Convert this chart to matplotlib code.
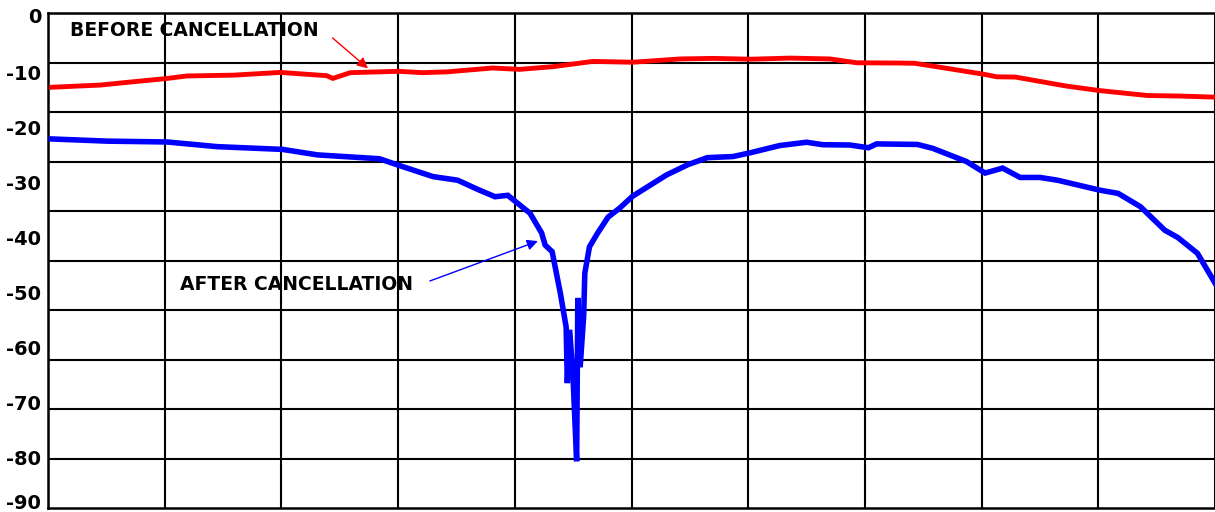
import numpy as np
import matplotlib
matplotlib.use("Agg")
import matplotlib.pyplot as plt
import matplotlib.transforms as mtransforms

# sweep position (10 grid divisions) and level readings
before_x = [0.03, 0.45, 0.73, 1.02, 1.19, 1.59, 1.99, 2.39, 2.44, 2.59, 3.00, 3.21,
            3.42, 3.81, 4.04, 4.33, 4.67, 5.01, 5.42, 5.70, 6.02, 6.36, 6.70, 6.93,
            7.30, 7.43, 8.01, 8.13, 8.29, 8.73, 9.01, 9.42, 9.70, 10.0]
before_y = [-13.5, -13.1, -12.5, -11.9, -11.45, -11.3, -10.8, -11.4, -11.9, -10.85,
            -10.6, -10.85, -10.7, -10.0, -10.25, -9.75, -8.8, -8.95, -8.35, -8.25,
            -8.4, -8.2, -8.35, -9.05, -9.1, -9.15, -11.1, -11.6, -11.65, -13.3,
            -14.1, -15.0, -15.1, -15.3]

after_x = [0.03, 0.51, 1.02, 1.45, 2.01, 2.31, 2.84, 3.02, 3.30, 3.51, 3.68, 3.83,
           3.94, 4.13, 4.23, 4.26, 4.32, 4.39, 4.44, 4.45, 4.47, 4.50, 4.53, 4.54,
           4.56, 4.59, 4.60, 4.64, 4.71, 4.80, 4.90, 5.01, 5.30, 5.48, 5.65, 5.87,
           6.02, 6.27, 6.50, 6.64, 6.87, 7.03, 7.10, 7.45, 7.58, 7.87, 8.03, 8.18,
           8.33, 8.50, 8.65, 9.01, 9.17, 9.36, 9.57, 9.68, 9.85, 10.0]
after_y = [-22.9, -23.3, -23.45, -24.3, -24.8, -25.8, -26.5, -27.8, -29.75, -30.4,
           -32.05, -33.4, -33.15, -36.4, -40.0, -42.2, -43.4, -50.9, -57.1, -67.3,
           -57.6, -66.7, -81.5, -51.8, -64.4, -55.1, -47.3, -42.5, -40.0, -37.1,
           -35.45, -33.3, -29.45, -27.6, -26.3, -26.1, -25.4, -24.1, -23.5, -23.95,
           -24.0, -24.5, -23.8, -23.9, -24.6, -27.0, -29.1, -28.2, -29.9, -29.9,
           -30.4, -32.2, -32.8, -35.2, -39.5, -40.8, -43.7, -49.1]

y_ticks = [0, -10, -20, -30, -40, -50, -60, -70, -80, -90]

fig = plt.figure(figsize=(12.15, 5.12), dpi=100)
ax = fig.add_axes([48 / 1215, 4 / 512, 1 - 48 / 1215, 495 / 512])

ax.set_xlim(0, 10)
ax.set_ylim(-90, 0)

# grid has 10 divisions both ways, labels are spread separately
ax.set_xticks(np.arange(0, 11, 1))
ax.set_xticklabels([])
ax.set_yticks(np.linspace(0, -90, 11), minor=True)
ax.set_yticks(y_ticks)
ax.set_yticklabels([str(v) for v in y_ticks], fontsize=14, fontweight='bold')
ax.tick_params(axis='both', which='both', length=0)
ax.tick_params(axis='y', pad=5)
ax.grid(True, axis='x', color='black', lw=1.5)
ax.grid(True, axis='y', which='minor', color='black', lw=1.5)
ax.set_axisbelow(True)

# labels in the original sit a few px below their value, last one pulled up
labs = ax.get_yticklabels()
for i, lab in enumerate(labs):
    dy = -3.5 if i in range(1, len(labs) - 1) else -1.5
    if i == len(labs) - 1:
        dy = 5
    lab.set_transform(lab.get_transform() +
                      mtransforms.ScaledTranslation(0, dy / 72, fig.dpi_scale_trans))

for side in ['left', 'top', 'bottom']:
    ax.spines[side].set_linewidth(1.8)
ax.spines['right'].set_visible(False)

ax.plot(before_x, before_y, color='#ff0000', lw=3.5, solid_joinstyle='round', zorder=3)
ax.plot(after_x, after_y, color='#0000ff', lw=4, solid_joinstyle='miter', zorder=3)

ax.text(1.25, -3.1, 'BEFORE CANCELLATION', fontsize=13.5, fontweight='bold',
        ha='center', va='center')
ax.annotate('', xy=(2.76, -10.4), xytext=(2.42, -4.2),
            arrowprops=dict(arrowstyle='-|>', color='#ff0000', lw=1, mutation_scale=16))

ax.text(2.13, -49.3, 'AFTER CANCELLATION', fontsize=13.5, fontweight='bold',
        ha='center', va='center')
ax.annotate('', xy=(4.22, -41.3), xytext=(3.25, -48.9),
            arrowprops=dict(arrowstyle='-|>', color='#0000ff', lw=1, mutation_scale=16))

fig.savefig('out.png', dpi=100)
